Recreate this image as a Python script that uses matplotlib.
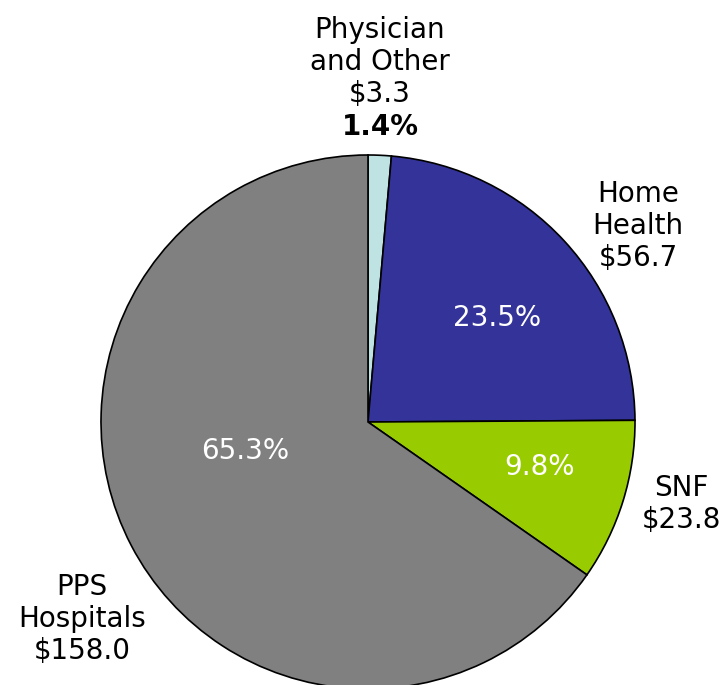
import matplotlib.pyplot as plt

# Medicare spending by provider type ($ billions)
labels = ["Physician\nand Other", "Home\nHealth", "SNF", "PPS\nHospitals"]
amounts = [3.3, 56.7, 23.8, 158.0]
shares = [1.4, 23.5, 9.8, 65.3]
colors = ["#BFE3E3", "#333399", "#99CC00", "#808080"]

fig = plt.figure(figsize=(7.21, 6.85), dpi=100)
ax = fig.add_axes([0, 0, 1, 1])

ax.pie(shares, colors=colors, startangle=90, counterclock=False,
       center=(368, 263), radius=267,
       wedgeprops=dict(edgecolor="black", linewidth=1.2))

# pie() resets the limits, so set them afterwards
ax.set_xlim(0, 721)
ax.set_ylim(0, 685)
ax.set_aspect("equal")
ax.axis("off")

fs = 20
font = "DejaVu Sans"
ls = 1.18

# outside labels
ax.text(380, 685 - 62, f"{labels[0]}\n${amounts[0]}", ha="center", va="center",
        fontsize=fs, family=font, linespacing=ls)
ax.text(380, 685 - 127, f"{shares[0]}%", ha="center", va="center",
        fontsize=fs, family=font, fontweight="bold")
ax.text(638, 685 - 226, f"{labels[1]}\n${amounts[1]}", ha="center", va="center",
        fontsize=fs, family=font, linespacing=ls)
ax.text(681, 685 - 504, f"{labels[2]}\n${amounts[2]}", ha="center", va="center",
        fontsize=fs, family=font, linespacing=ls)
ax.text(82, 685 - 619, f"{labels[3]}\n${amounts[3]:.1f}", ha="center", va="center",
        fontsize=fs, family=font, linespacing=ls)

# percentages inside the slices
ax.text(497, 685 - 318, f"{shares[1]}%", ha="center", va="center", fontsize=fs,
        family=font, color="white")
ax.text(540, 685 - 467, f"{shares[2]}%", ha="center", va="center", fontsize=fs,
        family=font, color="white")
ax.text(245, 685 - 451, f"{shares[3]}%", ha="center", va="center", fontsize=fs,
        family=font, color="white")

fig.savefig("out.png", dpi=100)
